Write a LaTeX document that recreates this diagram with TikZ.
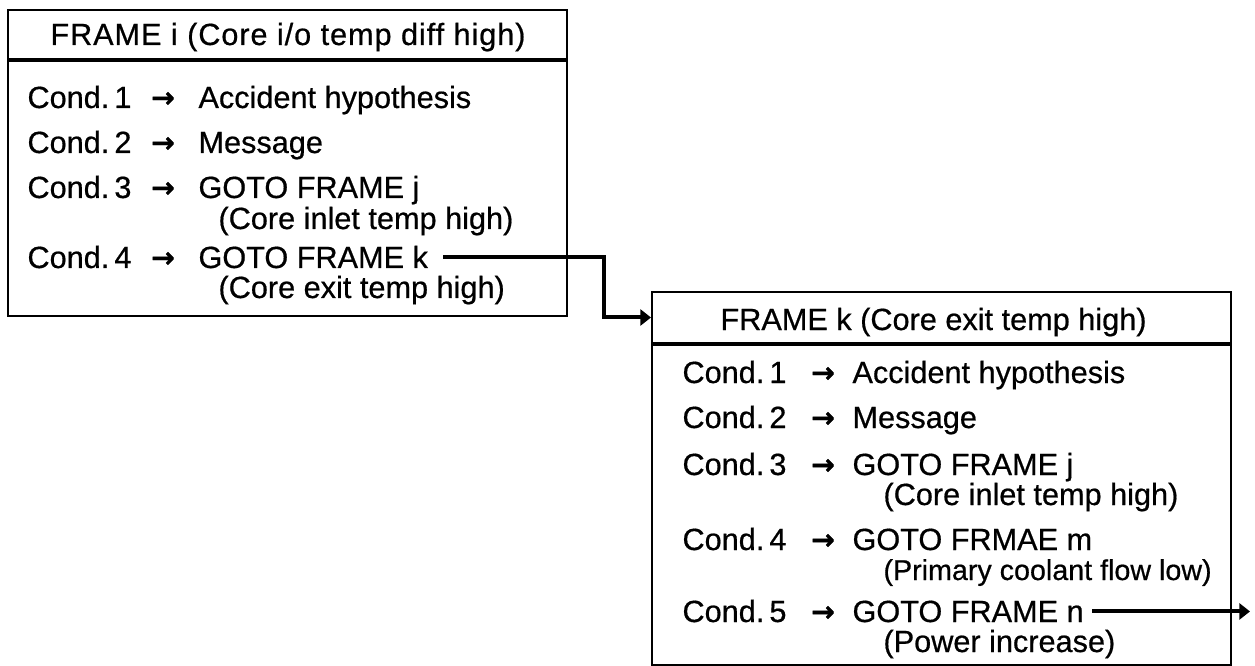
\documentclass[tikz,border=0pt]{standalone}
\usepackage{fontspec}
\setmainfont{Liberation Sans}[FakeBold=0.6]
\newfontfamily\arrowfont{DejaVu Sans}[FakeBold=1.2]
\usetikzlibrary{arrows.meta}

\tikzset{every picture/.style={line width=0.75pt}}
\tikzset{
  txt/.style={anchor=base west, inner sep=0pt, font=\fontsize{23}{28}\selectfont},
  hdtxt/.style={txt, font=\fontsize{23}{28}\selectfont\addfontfeature{LetterSpace=3}},
  smalltxt/.style={txt, font=\fontsize{21.5}{26}\selectfont},
  arr/.style={inner sep=0pt, yshift=-2pt, font=\arrowfont\bfseries\fontsize{21}{21}\selectfont},
  framebox/.style={draw, line width=1.5pt, anchor=north west, inner sep=0pt},
  link/.style={line width=3pt, -{Triangle[length=8pt,width=12pt]}}
}

\begin{document}
\begin{tikzpicture}[x=0.75pt,y=0.75pt,yscale=-1,xscale=1]
\useasboundingbox (0,0) rectangle (1255,666);

%Shape: Frame i
    \node (ihead) [framebox, minimum width=419.25pt, minimum height=36.75pt] at (7,9) {};
    \node (ibody) [framebox, minimum width=419.25pt, minimum height=191.25pt] at (ihead.south west) {};
%Shape: Frame k
    \node (khead) [framebox, minimum width=434.25pt, minimum height=38.25pt] at (651,291) {};
    \node (kbody) [framebox, minimum width=434.25pt, minimum height=240pt] at (khead.south west) {};

% Text Node
    \node (ititle) [hdtxt] at (50,45) {FRAME i (Core i/o temp diff high)};
% Text Node
    \node (ic1) [txt] at (27,108) {Cond.\,1};
    \node (ia1) [arr] at (163,97) {→};
    \node (it1) [txt] at (198,108) {Accident hypothesis};
% Text Node
    \node (ic2) [txt] at (27,153) {Cond.\,2};
    \node (ia2) [arr] at (163,142) {→};
    \node (it2) [txt] at (198,153) {Message};
% Text Node
    \node (ic3) [txt] at (27,198) {Cond.\,3};
    \node (ia3) [arr] at (163,187) {→};
    \node (it3) [txt] at (198,198) {GOTO FRAME j};
    \node (is3) [txt] at (218,229) {(Core inlet temp high)};
% Text Node
    \node (ic4) [txt] at (27,268) {Cond.\,4};
    \node (ia4) [arr] at (163,257) {→};
    \node (igotok) [txt] at (198,268) {GOTO FRAME k};
    \node (is4) [txt] at (218,298) {(Core exit temp high)};

% Text Node
    \node (ktitle) [txt] at (720,330) {FRAME k (Core exit temp high)};
% Text Node
    \node (kc1) [txt] at (682,383) {Cond.\,1};
    \node (ka1) [arr] at (823,372) {→};
    \node (kt1) [txt] at (852,383) {Accident hypothesis};
% Text Node
    \node (kc2) [txt] at (682,428) {Cond.\,2};
    \node (ka2) [arr] at (823,417) {→};
    \node (kt2) [txt] at (852,428) {Message};
% Text Node
    \node (kc3) [txt] at (682,475) {Cond.\,3};
    \node (ka3) [arr] at (823,464) {→};
    \node (kt3) [txt] at (852,475) {GOTO FRAME j};
    \node (ks3) [txt] at (883,505) {(Core inlet temp high)};
% Text Node
    \node (kc4) [txt] at (682,550) {Cond.\,4};
    \node (ka4) [arr] at (823,539) {→};
    \node (kt4) [txt] at (852,550) {GOTO FRMAE m};
    \node (ks4) [smalltxt] at (883,580) {(Primary coolant flow low)};
% Text Node
    \node (kc5) [txt] at (682,622) {Cond.\,5};
    \node (ka5) [arr] at (823,611) {→};
    \node (kgoton) [txt] at (852,622) {GOTO FRAME n};
    \node (ks5) [txt] at (883,652) {(Power increase)};

%Straight Lines: frame i -> frame k
    \draw [link] ([xshift=11pt]igotok.east) -| ([xshift=-35pt]khead.west) -- (khead.west);
%Straight Lines: frame k -> frame n
    \coordinate (nout) at (1250,605);
    \draw [link] ([xshift=6pt]kgoton.east) -- (kgoton.east -| nout);

\end{tikzpicture}
\end{document}
